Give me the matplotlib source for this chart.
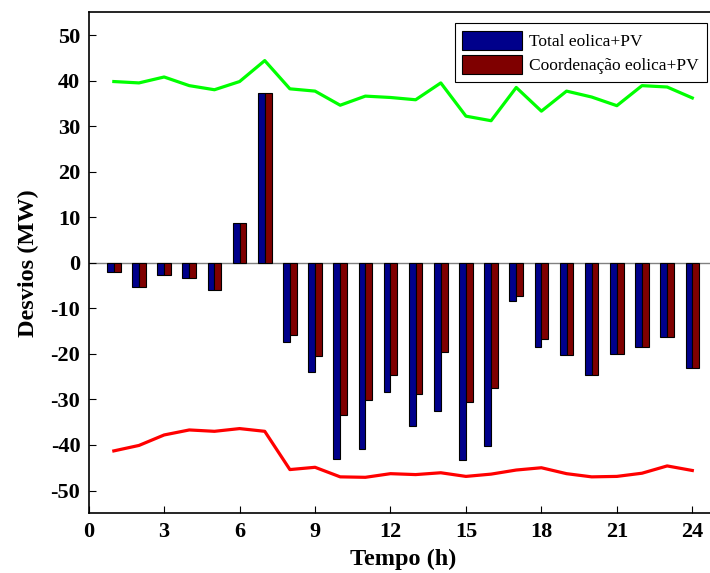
"""Desvios horarios: total eolica+PV vs coordenacao, com limites"""

import numpy as np
import matplotlib.pyplot as plt

hours = np.arange(1, 25)

# desvios (MW)
total = [-2.0, -5.4, -2.6, -3.4, -6.0, 8.8, 37.3, -17.3, -24.0, -43.0, -40.8, -28.3,
         -35.8, -32.5, -43.4, -40.2, -8.3, -18.5, -20.3, -24.7, -20.1, -18.4, -16.4, -23.2]
coord = [-2.0, -5.4, -2.6, -3.4, -6.0, 8.8, 37.3, -15.8, -20.4, -33.4, -30.2, -24.7,
         -28.9, -19.5, -30.5, -27.5, -7.3, -16.7, -20.3, -24.7, -20.1, -18.4, -16.4, -23.2]

# limites superior / inferior
upper = [39.8, 39.5, 40.8, 38.9, 38.0, 39.8, 44.4, 38.2, 37.7, 34.6, 36.6, 36.3,
         35.8, 39.5, 32.2, 31.2, 38.5, 33.3, 37.7, 36.4, 34.5, 38.9, 38.6, 36.2]
lower = [-41.3, -40.1, -37.8, -36.7, -37.0, -36.4, -37.0, -45.4, -44.9, -47.0, -47.1, -46.3,
         -46.5, -46.1, -46.9, -46.4, -45.5, -45.0, -46.3, -47.0, -46.9, -46.2, -44.6, -45.6]

plt.rcParams['font.family'] = ['Liberation Serif', 'DejaVu Serif']
plt.rcParams['axes.unicode_minus'] = False

fig = plt.figure(figsize=(7.10, 5.73), dpi=100)
ax = fig.add_axes([0.1249, 0.1042, 0.8856, 0.8743])

w = 0.27
ax.bar(hours - w / 2, total, w, color='#00008b', edgecolor='black', linewidth=0.8,
       label='Total eolica+PV', zorder=2)
ax.bar(hours + w / 2, coord, w, color='#7f0000', edgecolor='black', linewidth=0.8,
       label='Coordenação eolica+PV', zorder=2)
ax.axhline(0, color='#808080', linewidth=1.0, zorder=1)

ax.plot(hours, upper, color='#00ff00', linewidth=2.3, zorder=3)
ax.plot(hours, lower, color='#ff0000', linewidth=2.3, zorder=3)

ax.set_xlim(0, 25)
ax.set_ylim(-55, 55)
ax.set_xticks(np.arange(0, 25, 3))
ax.set_yticks(np.arange(-50, 51, 10))
ax.tick_params(direction='in', length=5, width=0.8, labelsize=16, pad=6)
for lbl in ax.get_xticklabels() + ax.get_yticklabels():
    lbl.set_fontweight('bold')
for sp in ax.spines.values():
    sp.set_linewidth(1.2)

ax.set_xlabel('Tempo (h)', fontsize=17.5, fontweight='bold', labelpad=5)
ax.set_ylabel('Desvios (MW)', fontsize=17.5, fontweight='bold', labelpad=8)

leg = ax.legend(loc='upper right', bbox_to_anchor=(0.983, 0.979), borderaxespad=0,
                fontsize=12.5, handlelength=3.4, handleheight=1.3, fancybox=False,
                framealpha=1, edgecolor='black', borderpad=0.45, labelspacing=0.3,
                handletextpad=0.45)
leg.get_frame().set_linewidth(0.8)

fig.savefig('out.png', dpi=100)
